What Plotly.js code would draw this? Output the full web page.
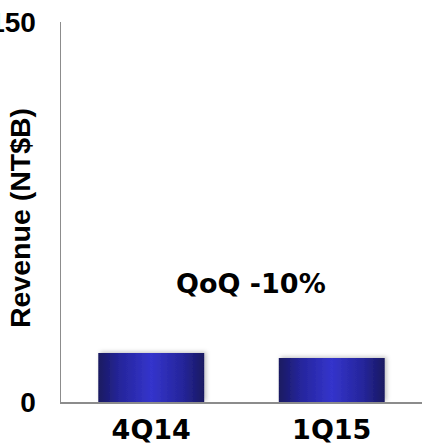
<!DOCTYPE html>
<html>
<head>
<meta charset="utf-8">
<script src="https://cdn.plot.ly/plotly-3.0.1.min.js"></script>
<style>html,body{margin:0;padding:0;background:#fff;}#chart{width:422px;height:446px;}</style>
</head>
<body>
<div id="chart"></div>
<script>
var categories = ["4Q14", "1Q15"];
var revenue = [19.3, 17.4];
var yTickValues = [0, 150];
var yTickLabels = ["0", "150"];
var annotationText = "QoQ -10%";
var yTitle = "Revenue (NT$B)";

var FONT = "Liberation Sans, Arial, sans-serif";
var WIDE = "DejaVu Sans, Verdana, sans-serif";

var trace = {
  type: "bar",
  x: categories,
  y: revenue,
  width: 0.587,
  marker: {color: "#2a2aa8", line: {width: 0}},
  hoverinfo: "none"
};

var layout = {
  width: 422, height: 446,
  margin: {l: 61, r: 0, t: 22, b: 44, pad: 0},
  paper_bgcolor: "#fff",
  plot_bgcolor: "#fff",
  showlegend: false,
  font: {family: FONT, color: "#000"},
  xaxis: {
    range: [-0.5, 1.5],
    showline: true, linecolor: "#8c8c8c", linewidth: 1.5,
    ticks: "", showgrid: false, zeroline: false,
    tickfont: {family: WIDE, size: 27, color: "#000", weight: "bold"},
    ticklabelstandoff: 3
  },
  yaxis: {
    range: [0, 150],
    tickvals: yTickValues, ticktext: yTickLabels,
    showline: true, linecolor: "#8c8c8c", linewidth: 1.5,
    ticks: "", showgrid: false, zeroline: false,
    tickfont: {family: FONT, size: 28, color: "#000", weight: "bold"},
    ticklabelstandoff: 18,
    automargin: false
  },
  annotations: [{
    xref: "paper", yref: "paper", x: 0.526, y: 0.313,
    text: annotationText, showarrow: false,
    font: {family: WIDE, size: 27, color: "#000", weight: "bold"},
    xanchor: "center", yanchor: "middle"
  }, {
    xref: "paper", yref: "paper", x: -0.1136, y: 0.484,
    text: yTitle, showarrow: false, textangle: -90,
    font: {family: FONT, size: 28.5, color: "#000", weight: "bold"},
    xanchor: "center", yanchor: "middle"
  }]
};

Plotly.newPlot("chart", [trace], layout, {staticPlot: true, displayModeBar: false}).then(function (gd) {
  var svg = gd.querySelector(".main-svg");
  var ns = "http://www.w3.org/2000/svg";
  var defs = svg.querySelector("defs") || svg.insertBefore(document.createElementNS(ns, "defs"), svg.firstChild);
  var g = document.createElementNS(ns, "linearGradient");
  g.setAttribute("id", "barGrad");
  g.setAttribute("x1", "0"); g.setAttribute("x2", "1"); g.setAttribute("y1", "0"); g.setAttribute("y2", "0");
  [["0", "#191960"], ["0.2", "#25259a"], ["0.5", "#3434cc"], ["0.8", "#25259a"], ["1", "#191960"]].forEach(function (s) {
    var st = document.createElementNS(ns, "stop");
    st.setAttribute("offset", s[0]); st.setAttribute("stop-color", s[1]);
    g.appendChild(st);
  });
  defs.appendChild(g);
  var f = document.createElementNS(ns, "filter");
  f.setAttribute("id", "barShadow");
  f.setAttribute("x", "-20%"); f.setAttribute("y", "-20%"); f.setAttribute("width", "140%"); f.setAttribute("height", "140%");
  f.innerHTML = '<feDropShadow dx="2" dy="-1" stdDeviation="2" flood-color="#000" flood-opacity="0.25"/>';
  defs.appendChild(f);
  gd.querySelectorAll(".barlayer .point path").forEach(function (p) {
    p.style.fill = "url(#barGrad)";
    p.setAttribute("filter", "url(#barShadow)");
  });
});
</script>
</body>
</html>
